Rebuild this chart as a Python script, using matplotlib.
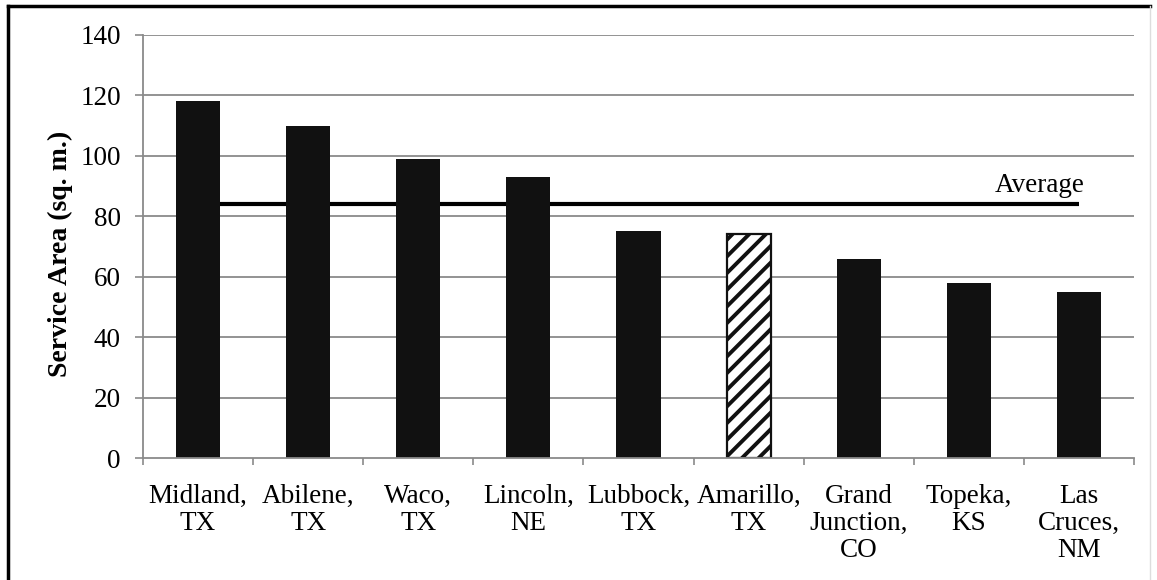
import matplotlib
matplotlib.use("Agg")
import matplotlib.pyplot as plt
from matplotlib.lines import Line2D

plt.rcParams['font.family'] = ['Liberation Serif', 'DejaVu Serif']
plt.rcParams['hatch.linewidth'] = 2.8

cities = ["Midland,\nTX", "Abilene,\nTX", "Waco,\nTX", "Lincoln,\nNE", "Lubbock,\nTX",
          "Amarillo,\nTX", "Grand\nJunction,\nCO", "Topeka,\nKS", "Las\nCruces,\nNM"]
service_area = [118, 110, 99, 93, 75, 74, 66, 58, 55]
average = [84] * len(cities)
highlight = "Amarillo,\nTX"
yticks = [0, 20, 40, 60, 80, 100, 120, 140]

W, H = 1157, 580
fig = plt.figure(figsize=(W / 100, H / 100), dpi=100)
ax = fig.add_axes([143 / W, 1 - 458 / H, (1134 - 143) / W, (458 - 35) / H])

x = list(range(len(cities)))
grid_c = "#8a8a8a"
for yv in yticks[1:]:
    ax.axhline(yv, color=grid_c, lw=1.3, zorder=0)

ax.plot(x, average, color="black", lw=3, zorder=1, solid_capstyle="butt")
for xi, name, val in zip(x, cities, service_area):
    if name == highlight:
        ax.bar(xi, val, width=0.4, facecolor="white", edgecolor="#111111",
               hatch="//", lw=1.6, zorder=2)
    else:
        ax.bar(xi, val, width=0.4, color="#111111", zorder=2)

ax.text(x[-1] + 0.05, average[-1] + 2.0, "Average", ha="right", va="bottom", fontsize=19.5)

ax.set_xlim(-0.5, len(cities) - 0.5)
ax.set_ylim(0, 140)
ax.set_yticks(yticks)
ax.set_xticks(x)
ax.set_xticklabels(cities, fontsize=19.5, linespacing=1.1)
ax.set_xticks([i - 0.5 for i in range(len(cities) + 1)], minor=True)
ax.tick_params(axis="x", which="major", length=0, pad=19)
ax.tick_params(axis="x", which="minor", length=5, color=grid_c, width=1.2)
ax.tick_params(axis="y", length=6, color=grid_c, width=1.2, labelsize=19.5, pad=10)

for side in ("top", "right"):
    ax.spines[side].set_visible(False)
for side in ("left", "bottom"):
    ax.spines[side].set_color(grid_c)
    ax.spines[side].set_linewidth(1.3)

ax.set_ylabel("Service Area (sq. m.)", fontsize=20, fontweight="bold")
ax.yaxis.set_label_coords(-0.071, 0.483)

# outer frame
fig.add_artist(Line2D([8 / W, 8 / W], [0, 1 - 6 / H], color="black", lw=2.5))
fig.add_artist(Line2D([8 / W, 1150 / W], [1 - 6 / H, 1 - 6 / H], color="black", lw=2.5))
fig.add_artist(Line2D([1150 / W, 1150 / W], [0, 1 - 6 / H], color="#dddddd", lw=1))

fig.savefig("out.png", dpi=100)
